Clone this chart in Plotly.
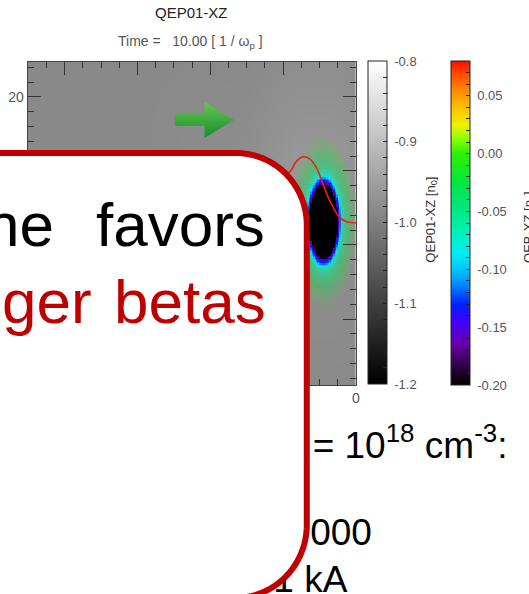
import numpy as np
import plotly.graph_objects as go

W, H = 529, 594
FONT = "Liberation Sans, Arial, Helvetica, sans-serif"
BOX_RED = "#c00000"

# ---------------- simulation data ----------------
# QEP01-XZ background density [n0], coarse samples on an (x, z) grid
qep_x = [-50.0, -30.0, -15.0, -8.0, -3.0, 3.0]
qep_y = [-22.0, -5.0, 5.0, 12.0, 28.0]
qep_z = [
    [-0.985, -0.985, -0.985, -0.985, -0.985, -0.985],
    [-0.985, -0.985, -0.982, -0.978, -0.978, -0.982],
    [-0.985, -0.985, -0.978, -0.965, -0.968, -0.975],
    [-0.985, -0.985, -0.978, -0.962, -0.962, -0.975],
    [-0.985, -0.985, -0.985, -0.982, -0.982, -0.985],
]

# QEB-XZ beam density: bubble centre / semi-axes and radial profile
bubble_center = (-4.46, 3.13)
bubble_semi_axes = (2.03, 5.13)
qeb_radius = [0.0, 0.97, 1.02, 1.07, 1.13, 1.18, 1.24, 1.45, 1.85, 2.30]
qeb_value = [-0.20, -0.20, -0.16, -0.135, -0.115, -0.095, -0.07, -0.045, -0.02, 0.0]

# on-axis lineout (red curve)
line_x = [-12.0, -10.5, -9.05, -8.24, -7.30, -6.30, -5.41, -4.59, -3.65, -2.30, -1.22, 0.0]
line_y = [7.6, 8.9, 9.9, 11.2, 11.9, 11.6, 10.4, 8.4, 6.1, 3.8, 3.1, 3.0]

# colour bar ticks
qep_range = (-1.2, -0.8)
qep_labels = [-1.2, -1.1, -1.0, -0.9, -0.8]
qep_minor = [round(-1.2 + 0.02 * i, 2) for i in range(21)]
qeb_range = (-0.20, 0.08)
qeb_labels = [-0.20, -0.15, -0.10, -0.05, 0.00, 0.05]
qeb_minor = [round(-0.20 + 0.01 * i, 2) for i in range(29)]

# axis ranges of the x-z slice
x_range = [-45.1, 0.0]
y_range = [-18.9, 24.7]

# rainbow colour table (value, colour, overlay opacity)
rainbow = [
    (-0.200, "#000000", 1.0), (-0.185, "#2a0040", 1.0), (-0.165, "#6a00a8", 1.0),
    (-0.145, "#4000ff", 1.0), (-0.130, "#0020ff", 1.0), (-0.115, "#0080ff", 1.0),
    (-0.100, "#00c8ff", 1.0), (-0.085, "#00f0f0", 0.85), (-0.065, "#00f0b0", 0.62),
    (-0.045, "#00e878", 0.5), (-0.025, "#00e840", 0.32), (0.000, "#30f000", 0.0),
    (0.015, "#a0ff00", 0.0), (0.025, "#f0f000", 0.0), (0.040, "#ffc000", 0.0),
    (0.055, "#ff8800", 0.0), (0.070, "#ff4400", 0.0), (0.080, "#f01000", 0.0),
]


def norm(v, lo, hi):
    return (v - lo) / (hi - lo)


def hex_rgba(h, a):
    h = h.lstrip("#")
    r, g, b = int(h[0:2], 16), int(h[2:4], 16), int(h[4:6], 16)
    return f"rgba({r},{g},{b},{a:.3f})"


rainbow_scale = [[norm(v, *qeb_range), c] for v, c, _ in rainbow]
rainbow_overlay = [[norm(v, *qeb_range), hex_rgba(c, a)] for v, c, a in rainbow]
gray_scale = [[0.0, "#000000"], [1.0, "#ffffff"]]

# beam density field from the radial profile
gx = np.arange(-12.0, 0.001, 0.2)
gy = np.arange(-10.0, 18.0, 0.2)
GX, GY = np.meshgrid(gx, gy)
R = np.hypot((GX - bubble_center[0]) / bubble_semi_axes[0],
             (GY - bubble_center[1]) / bubble_semi_axes[1])
QEB = np.interp(R, qeb_radius, qeb_value)
QEB[R >= qeb_radius[-1]] = np.nan

fig = go.Figure()

# background density with its grey colour bar
fig.add_trace(go.Heatmap(
    x=qep_x, y=qep_y, z=qep_z, zsmooth="best",
    zmin=qep_range[0], zmax=qep_range[1], colorscale=gray_scale,
    showscale=True, hoverinfo="skip",
    colorbar=dict(
        x=369 / W, xanchor="left", y=1 - 61 / H, yanchor="top",
        len=323, lenmode="pixels", thickness=19, thicknessmode="pixels",
        xpad=0, ypad=0, outlinewidth=1, outlinecolor="#222",
        tickmode="array", tickvals=qep_minor,
        ticktext=[("\u00a0" + f"{v:.1f}") if any(abs(v - l) < 1e-9 for l in qep_labels) else "" for v in qep_minor],
        ticks="inside", ticklen=4, tickcolor="#222",
        tickfont=dict(family=FONT, size=13, color="#555"),
    ),
))

# beam density overlay
fig.add_trace(go.Heatmap(
    x=gx, y=gy, z=QEB, zmin=qeb_range[0], zmax=qeb_range[1],
    colorscale=rainbow_overlay, showscale=False, hoverinfo="skip",
))

# on-axis lineout
fig.add_trace(go.Scatter(
    x=line_x, y=line_y, mode="lines",
    line=dict(color="#e8201c", width=1.6, shape="spline"),
    hoverinfo="skip", showlegend=False,
))

# rainbow colour bar for the beam density
fig.add_trace(go.Scatter(
    x=[-100, -100], y=[-100, -100], mode="markers", xaxis="x2", yaxis="y2",
    hoverinfo="skip", showlegend=False,
    marker=dict(
        color=[qeb_range[0], qeb_range[1]], cmin=qeb_range[0], cmax=qeb_range[1],
        colorscale=rainbow_scale, showscale=True, size=1,
        colorbar=dict(
            x=454 / W, xanchor="left", y=1 - 61 / H, yanchor="top",
            len=324, lenmode="pixels", thickness=19, thicknessmode="pixels",
            xpad=0, ypad=0, outlinewidth=1, outlinecolor="#222",
            tickmode="array", tickvals=qeb_minor,
            ticktext=[("\u00a0" + f"{v:.2f}".replace("-0.00", "0.00")) if any(abs(v - l) < 1e-9 for l in qeb_labels) else "" for v in qeb_minor],
            ticks="inside", ticklen=4, tickcolor="#222",
            tickfont=dict(family=FONT, size=13, color="#555"),
        ),
    ),
))

# green direction arrow (page pixel coordinates)
arrow_x = [173, 203, 203, 233, 203, 203, 173, 173]
arrow_y = [114, 114, 102, 120, 138, 126, 126, 114]
fig.add_trace(go.Scatter(
    x=arrow_x, y=arrow_y, mode="lines", fill="toself", xaxis="x2", yaxis="y2",
    line=dict(width=0, color="rgba(0,0,0,0)"),
    fillgradient=dict(type="vertical", start=102, stop=138,
                      colorscale=[[0, "#66c650"], [1, "#178f2e"]]),
    hoverinfo="skip", showlegend=False,
))


def page_text(txt, x, baseline, size, color):
    fig.add_trace(go.Scatter(
        x=[x], y=[baseline - 0.25 * size], mode="text", text=[txt],
        textposition="middle right", xaxis="x2", yaxis="y2",
        textfont=dict(family=FONT, size=size, color=color),
        hoverinfo="skip", showlegend=False, cliponaxis=False,
    ))


# slide text partly covered by the callout
page_text("= 10<sup>18</sup> cm<sup>-3</sup>:", 313, 458, 37, "#000")
page_text("000", 310.5, 545, 37, "#000")
page_text("1 kA", 273, 592, 37, "#000")


# callout box with rounded right corners, as a paper-referenced path
def rounded_box_path(left, top, right, bottom, r_top, r_bot, n=30):
    pts = [(left, top), (right - r_top, top)]
    for t in np.linspace(-np.pi / 2, 0, n):
        pts.append((right - r_top + r_top * np.cos(t), top + r_top + r_top * np.sin(t)))
    for t in np.linspace(0, np.pi / 2, n):
        pts.append((right - r_bot + r_bot * np.cos(t), bottom - r_bot + r_bot * np.sin(t)))
    pts.append((left, bottom))
    segs = [f"{x / W:.5f},{1 - y / H:.5f}" for x, y in pts]
    return "M" + " L".join(segs) + " Z"


box_shape = dict(
    type="path", xref="paper", yref="paper", layer="above",
    path=rounded_box_path(-60, 153, 307, 598, 72, 73),
    fillcolor="#ffffff", line=dict(color=BOX_RED, width=6),
)


# callout text (drawn above the box)
def callout_word(txt, x, baseline, size, color, anchor):
    # annotation box: baseline sits about 0.3465 * size below the box centre
    shift = 2 if anchor == "right" else -2
    return dict(text=txt, x=(x + shift) / W, y=1 - (baseline - 0.3465 * size) / H,
                xref="paper", yref="paper", xanchor=anchor, yanchor="middle",
                showarrow=False, font=dict(family=FONT, size=size, color=color))


axis_common = dict(
    ticks="inside", ticklen=13, tickwidth=1, tickcolor="#333",
    showline=True, linecolor="#444", linewidth=1, mirror="ticks",
    showgrid=False, zeroline=False, fixedrange=True,
    tickfont=dict(family=FONT, size=14, color="#555"),
)

fig.update_layout(
    width=W, height=H, margin=dict(l=0, r=0, t=0, b=0),
    paper_bgcolor="#ffffff", plot_bgcolor="rgba(0,0,0,0)",
    showlegend=False, hovermode=False,
    xaxis=dict(domain=[23 / W, 357 / W], range=x_range, tick0=0, dtick=10,
               minor=dict(dtick=2.5, ticks="inside", ticklen=6, tickcolor="#333"),
               **axis_common),
    yaxis=dict(domain=[1 - 385 / H, 1 - 62 / H], range=y_range, tick0=0, dtick=10,
               minor=dict(dtick=2, ticks="inside", ticklen=6, tickcolor="#333"),
               **axis_common),
    xaxis2=dict(domain=[0, 1], range=[0, W], visible=False, fixedrange=True, anchor="y2"),
    yaxis2=dict(domain=[0, 1], range=[H, 0], visible=False, fixedrange=True, anchor="x2"),
    shapes=[box_shape],
    annotations=[
        dict(text="QEP01-XZ", x=190 / W, y=1 - 13 / H, xref="paper", yref="paper",
             xanchor="center", yanchor="middle", showarrow=False,
             font=dict(family=FONT, size=15, color="#222")),
        dict(text="Time =\u00a0\u00a0\u00a010.00 [ 1 / \u03c9<sub>p</sub> ]", x=189 / W, y=1 - 42 / H,
             xref="paper", yref="paper", xanchor="center", yanchor="middle", showarrow=False,
             font=dict(family=FONT, size=14, color="#555")),
        dict(text="QEP01-XZ [n<sub>0</sub>]", x=433 / W, y=1 - 220 / H, textangle=-90,
             xref="paper", yref="paper", xanchor="center", yanchor="middle", showarrow=False,
             font=dict(family=FONT, size=13, color="#333")),
        dict(text="QEB-XZ [n<sub>0</sub>]", x=533 / W, y=1 - 227 / H, textangle=-90,
             xref="paper", yref="paper", xanchor="center", yanchor="middle", showarrow=False,
             font=dict(family=FONT, size=13, color="#333")),
        callout_word("ne", 50, 246, 62, "#000", "right"),
        callout_word("favors", 93, 246, 62, "#000", "left"),
        callout_word("ger", 89, 323, 62, BOX_RED, "right"),
        callout_word("betas", 111, 323, 62, BOX_RED, "left"),
    ],
)

fig.write_html("out.html")
